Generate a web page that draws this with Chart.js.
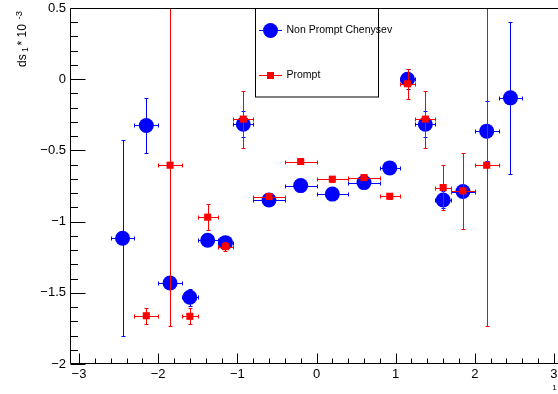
<!DOCTYPE html>
<html><head><meta charset="utf-8">
<script src="https://cdn.jsdelivr.net/npm/chart.js@4.4.1/dist/chart.umd.min.js"></script>
<style>
html,body{margin:0;padding:0;background:#fff;overflow:hidden;}
#wrap{width:558px;height:394px;overflow:hidden;position:relative;background:#fff;}
#c{position:absolute;left:0;top:0;width:566px;height:394px;}
</style></head><body>
<div id="wrap"><canvas id="c" width="566" height="394"></canvas></div>
<script>
// ---- data ----
const xCenters = [-2.45, -2.15, -1.85, -1.6, -1.375, -1.15, -0.925, -0.6, -0.2, 0.2, 0.6, 0.925, 1.15, 1.375, 1.6, 1.85, 2.15, 2.45];
const xErr     = [0.15, 0.15, 0.15, 0.1, 0.125, 0.1, 0.125, 0.2, 0.2, 0.2, 0.2, 0.125, 0.1, 0.125, 0.1, 0.15, 0.15, 0.15];
const nonPromptY   = [-1.117, -0.325, -1.431, -1.531, -1.131, -1.148, -0.316, -0.848, -0.747, -0.807, -0.726, -0.623, 0.0, -0.316, -0.848, -0.789, -0.365, -0.131];
const nonPromptErr = [0.687, 0.19, 0.02, 0.06, 0.02, 0.02, 0.09, 0.02, 0.02, 0.02, 0.02, 0.02, 0.072, 0.09, 0.06, 0.02, 0.21, 0.535];
const promptY   = [null, -1.661, -0.604, -1.665, -0.969, -1.176, -0.280, -0.824, -0.578, -0.702, -0.691, -0.822, -0.032, -0.280, -0.761, -0.784, -0.604, null];
const promptErr = [null, 0.055, 1.13, 0.055, 0.09, 0.03, 0.2, 0.02, 0.02, 0.02, 0.02, 0.02, 0.107, 0.2, 0.157, 0.267, 1.127, null];
const xTicks = [-3, -2, -1, 0, 1, 2, 3];
const yTicks = [-2, -1.5, -1, -0.5, 0, 0.5];
const seriesNames = ['Non Prompt Chenysev', 'Prompt'];
const yTitle = {main: 'ds', sub: '1', mid: '* 10', sup: '-3'};
const xTitle = '1';

const BLUE = 'rgb(0,0,255)', RED = 'rgb(255,0,0)';
const FONT = "'Liberation Sans', Arial, Helvetica, sans-serif";

function buildSeries(ys, es) {
  const pts = [], ex = [], ey = [];
  xCenters.forEach((x, i) => {
    if (ys[i] === null) return;
    pts.push({x: x, y: ys[i]}); ex.push(xErr[i]); ey.push(es[i]);
  });
  return {pts, ex, ey};
}
const np = buildSeries(nonPromptY, nonPromptErr);
const pr = buildSeries(promptY, promptErr);

const fmt = v => (v < 0 ? '\u2212' + String(Math.abs(v)) : String(v));
const half = v => Math.round(v) + 0.5;

const rootPlugin = {
  id: 'rootStyle',
  beforeDatasetDraw(chart, args) {
    const ds = chart.data.datasets[args.index];
    const {ctx, chartArea: a, scales: {x, y}} = chart;
    const cap = 2;
    ctx.save();
    ctx.beginPath(); ctx.rect(a.left, a.top, a.right - a.left, a.bottom - a.top); ctx.clip();
    ctx.strokeStyle = ds.borderColor; ctx.lineWidth = 1;
    ds.data.forEach((p, i) => {
      const ex = ds.errX[i], ey = ds.errY[i];
      const px = half(x.getPixelForValue(p.x)), py = half(y.getPixelForValue(p.y));
      const x0 = half(x.getPixelForValue(p.x - ex)), x1 = half(x.getPixelForValue(p.x + ex));
      const y0 = half(y.getPixelForValue(p.y + ey)), y1 = half(y.getPixelForValue(p.y - ey));
      ctx.beginPath();
      ctx.moveTo(x0, py); ctx.lineTo(x1, py);
      ctx.moveTo(x0, py - cap); ctx.lineTo(x0, py + cap);
      ctx.moveTo(x1, py - cap); ctx.lineTo(x1, py + cap);
      ctx.moveTo(px, y0); ctx.lineTo(px, y1);
      ctx.moveTo(px - cap, y0); ctx.lineTo(px + cap, y0);
      ctx.moveTo(px - cap, y1); ctx.lineTo(px + cap, y1);
      ctx.stroke();
    });
    ctx.restore();
  },
  afterDraw(chart) {
    const {ctx, chartArea: a, scales: {x, y}} = chart;
    ctx.save();
    ctx.strokeStyle = '#000'; ctx.lineWidth = 1;
    const L = half(a.left), T = half(a.top), R = half(a.right), B = Math.round(a.bottom) - 0.5;
    ctx.beginPath();
    ctx.moveTo(L, T); ctx.lineTo(R, T); ctx.lineTo(R, B); ctx.lineTo(L, B); ctx.closePath();
    for (let k = 0; k <= 25; k++) {
      const v = -2 + k * 0.1;
      const major = yTicks.some(t => Math.abs(t - v) < 1e-6);
      const py = half(y.getPixelForValue(v));
      ctx.moveTo(L, py); ctx.lineTo(L + (major ? 15 : 7.5), py);
    }
    for (let k = -16; k <= 16; k++) {
      const v = k * 0.2;
      if (v < x.min || v > x.max) continue;
      const major = xTicks.some(t => Math.abs(t - v) < 1e-6);
      const px = half(x.getPixelForValue(v));
      ctx.moveTo(px, B); ctx.lineTo(px, B - (major ? 10 : 5));
    }
    ctx.stroke();

    ctx.fillStyle = '#fff';
    ctx.fillRect(255.5, 8.5, 123, 88.5);
    ctx.strokeStyle = '#000';
    ctx.strokeRect(255.5, 8.5, 123, 88.5);
    const ents = [
      {c: BLUE, y: 30.5, name: seriesNames[0], style: 'circle'},
      {c: RED, y: 75.5, name: seriesNames[1], style: 'rect'}
    ];
    ents.forEach(e => {
      ctx.strokeStyle = e.c; ctx.fillStyle = e.c;
      ctx.beginPath(); ctx.moveTo(259, e.y); ctx.lineTo(282, e.y); ctx.stroke();
      ctx.beginPath();
      if (e.style === 'circle') { ctx.arc(270.5, e.y, 7.5, 0, Math.PI * 2); }
      else { ctx.rect(267, e.y - 3.5, 7, 7); }
      ctx.fill();
      ctx.fillStyle = '#000';
      ctx.font = `10.5px ${FONT}`;
      ctx.textBaseline = 'middle'; ctx.textAlign = 'left';
      ctx.fillText(e.name, 286.5, e.y - 0.5);
    });

    ctx.fillStyle = '#000';
    ctx.save();
    ctx.translate(26, 0); ctx.rotate(-Math.PI / 2);
    ctx.textBaseline = 'alphabetic'; ctx.textAlign = 'left';
    ctx.font = `12px ${FONT}`; ctx.fillText(yTitle.main, -67, 0);
    ctx.font = `8.5px ${FONT}`; ctx.fillText(yTitle.sub, -52, 1.5);
    ctx.font = `12px ${FONT}`; ctx.fillText(yTitle.mid, -45.5, 0);
    ctx.font = `9.5px ${FONT}`; ctx.fillText(yTitle.sup, -19.5, -4);
    ctx.restore();

    ctx.font = `8px ${FONT}`; ctx.textAlign = 'center'; ctx.textBaseline = 'middle';
    ctx.fillText(xTitle, 554.5, 387.5);
    ctx.restore();
  }
};

const noPad = s => { s.paddingLeft = 0; s.paddingRight = 0; s.paddingTop = 0; s.paddingBottom = 0; };

const chart = new Chart(document.getElementById('c'), {
  type: 'scatter',
  data: {
    datasets: [
      {label: seriesNames[0], data: np.pts, errX: np.ex, errY: np.ey,
       backgroundColor: BLUE, borderColor: BLUE, pointStyle: 'circle', pointRadius: 7.5, pointBorderWidth: 0, order: 2},
      {label: seriesNames[1], data: pr.pts, errX: pr.ex, errY: pr.ey,
       backgroundColor: RED, borderColor: RED, pointStyle: 'rect', pointRadius: 5, pointBorderWidth: 0, order: 1}
    ]
  },
  options: {
    responsive: false, maintainAspectRatio: false, animation: false, events: [], devicePixelRatio: 1,
    layout: {autoPadding: false, padding: {top: 8, right: 3, left: 0, bottom: 0}},
    plugins: {legend: {display: false}, tooltip: {enabled: false}},
    scales: {
      x: {
        type: 'linear', min: -3.114, max: 3.114,
        afterFit: s => { s.height = 30; noPad(s); },
        afterBuildTicks: s => { s.ticks = xTicks.map(v => ({value: v})); },
        grid: {display: false, drawTicks: false}, border: {display: false},
        ticks: {font: {family: FONT, size: 13}, color: '#000', padding: 3, maxRotation: 0, autoSkip: false, callback: fmt}
      },
      y: {
        type: 'linear', min: -2, max: 0.5,
        afterFit: s => { s.width = 70; noPad(s); },
        afterBuildTicks: s => { s.ticks = yTicks.map(v => ({value: v})); },
        grid: {display: false, drawTicks: false}, border: {display: false},
        ticks: {font: {family: FONT, size: 13, lineHeight: 1}, color: '#000', padding: 4, autoSkip: false, callback: fmt}
      }
    }
  },
  plugins: [rootPlugin]
});
</script>
</body></html>
